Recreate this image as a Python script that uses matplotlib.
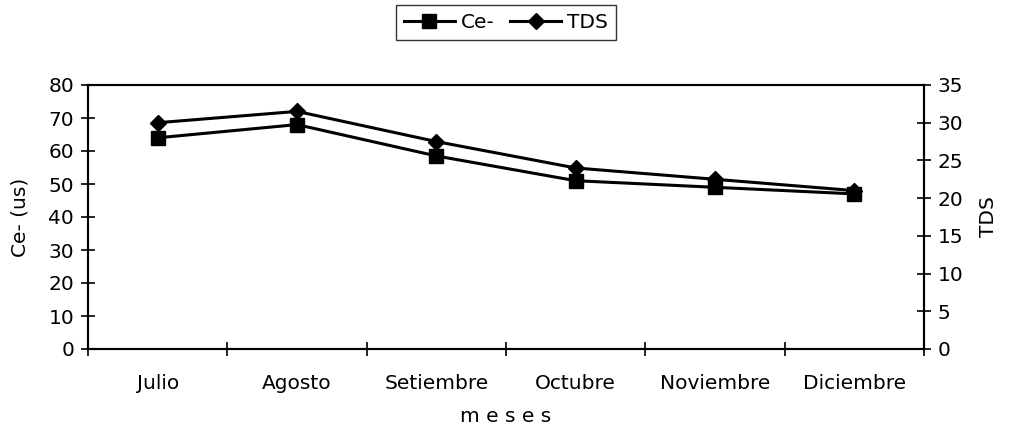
"""Ce- and TDS by month, twin y axes."""

import matplotlib

matplotlib.use("Agg")

import matplotlib.pyplot as plt  # noqa: E402
import numpy as np  # noqa: E402

plt.rcParams["font.family"] = ["DejaVu Sans"]

months = ["Julio", "Agosto", "Setiembre", "Octubre", "Noviembre", "Diciembre"]
ce_values = [64, 68, 58.5, 51, 49, 47]
tds_values = [30.0, 31.5, 27.5, 24.0, 22.5, 21.0]

FS = 14.5

fig = plt.figure(figsize=(10.11, 4.46), dpi=100)
ax = fig.add_axes([88 / 1011, 1 - 349 / 446, (924 - 88) / 1011, (349 - 85) / 446])
ax2 = ax.twinx()

xs = np.arange(len(months))
l1, = ax.plot(xs, ce_values, color="black", linewidth=2.2, marker="s",
              markersize=10, label="Ce-")
l2, = ax2.plot(xs, tds_values, color="black", linewidth=2.2, marker="D",
               markersize=8, label="TDS")

ax.set_xlim(-0.5, len(months) - 0.5)
ax.set_ylim(0, 80)
ax.set_yticks(np.arange(0, 81, 10))
ax2.set_ylim(0, 35)
ax2.set_yticks(np.arange(0, 36, 5))

# category labels centred, tick marks on the boundaries
ax.set_xticks(xs)
ax.set_xticklabels(months, fontsize=FS)
ax.tick_params(axis="x", length=0, pad=18)
ax.set_xticks(np.arange(-0.5, len(months)), minor=True)
ax.tick_params(axis="x", which="minor", direction="inout", length=10, width=1.2)

ax.tick_params(axis="y", direction="inout", length=10, width=1.2, labelsize=FS, pad=5)
ax2.tick_params(axis="y", direction="inout", length=10, width=1.2, labelsize=FS, pad=5)

for a in (ax, ax2):
    for s in a.spines.values():
        s.set_linewidth(1.5)

ax.set_ylabel("Ce- (us)", fontsize=FS)
ax.yaxis.set_label_coords(-0.070, 0.5)
ax2.set_ylabel("TDS", fontsize=FS)
ax2.yaxis.set_label_coords(1.066, 0.5)
ax.set_xlabel("m e s e s", fontsize=FS, labelpad=10)

fig.legend(handles=[l1, l2], loc="upper center", bbox_to_anchor=(506 / 1011, 0.989),
           ncol=2, fontsize=FS, frameon=True, fancybox=False, edgecolor="black",
           handlelength=2.5, handletextpad=0.3, columnspacing=0.8,
           borderpad=0.4, borderaxespad=0)

fig.savefig("out.png", dpi=100)
plt.close(fig)
